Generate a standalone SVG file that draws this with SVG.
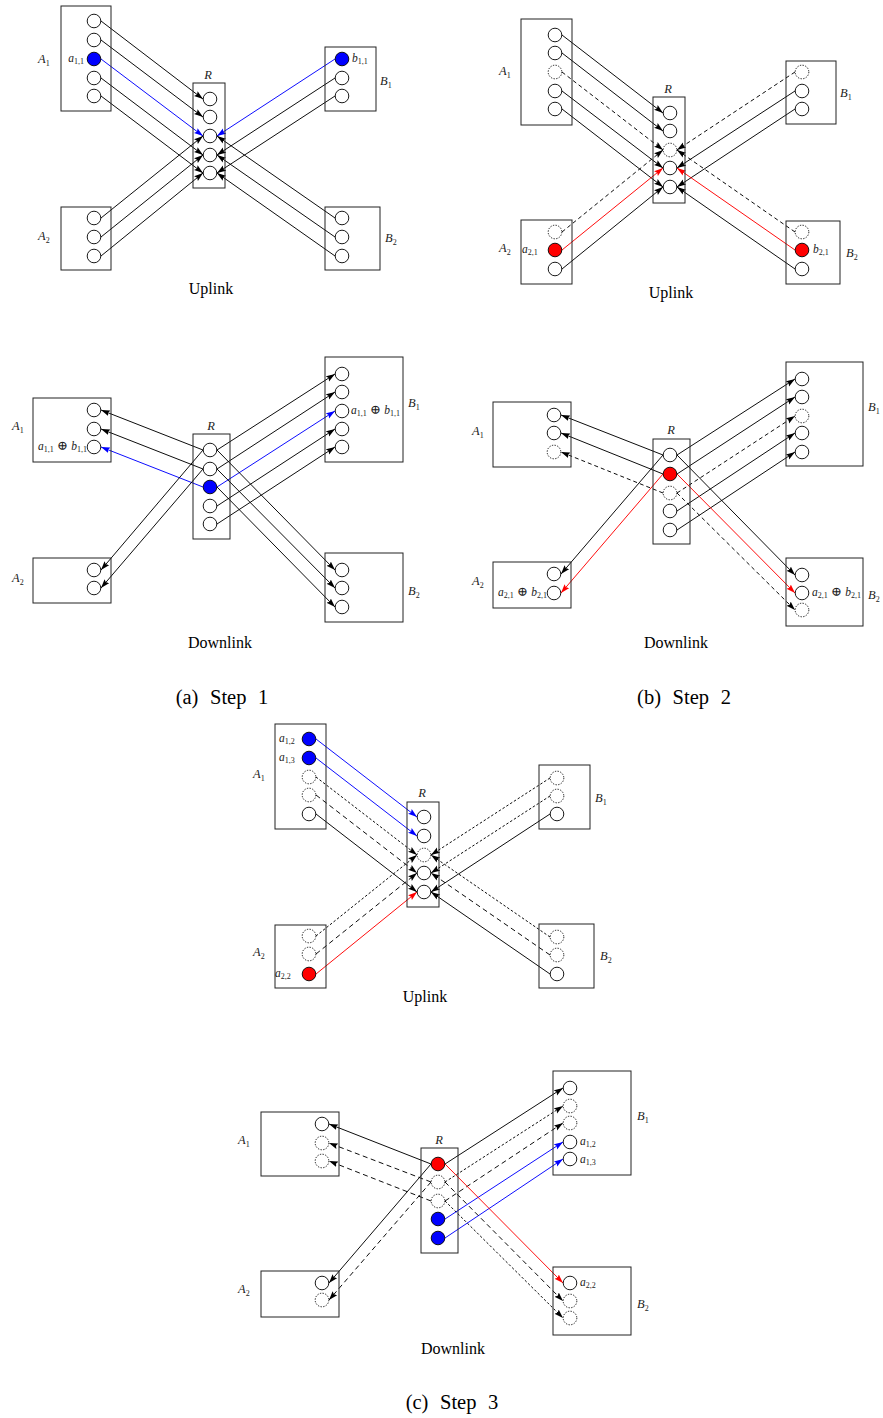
<svg xmlns="http://www.w3.org/2000/svg" width="883" height="1418" viewBox="0 0 883 1418">
<defs>
<marker id="ah" viewBox="0 0 9 7" refX="9" refY="3.5" markerWidth="9" markerHeight="7" markerUnits="userSpaceOnUse" orient="auto"><path d="M0,0.5 L9,3.5 L0,6.5 L1.5,3.5 z" fill="#000"/></marker>
<marker id="ahb" viewBox="0 0 9 7" refX="9" refY="3.5" markerWidth="9" markerHeight="7" markerUnits="userSpaceOnUse" orient="auto"><path d="M0,0.5 L9,3.5 L0,6.5 L1.5,3.5 z" fill="#00f"/></marker>
<marker id="ahr" viewBox="0 0 9 7" refX="9" refY="3.5" markerWidth="9" markerHeight="7" markerUnits="userSpaceOnUse" orient="auto"><path d="M0,0.5 L9,3.5 L0,6.5 L1.5,3.5 z" fill="#f00"/></marker>
</defs>
<style>
.box{fill:none;stroke:#222;stroke-width:1}
.n{fill:#fff;stroke:#000;stroke-width:0.9}
.d{fill:#fff;stroke:#000;stroke-width:0.9;stroke-dasharray:1.3 1.4}
.b{fill:#00f;stroke:#000;stroke-width:0.9}
.r{fill:#f00;stroke:#000;stroke-width:0.9}
line{stroke:#000;stroke-width:0.95;fill:none;marker-end:url(#ah)}
line.lb{stroke:#00f;marker-end:url(#ahb)}
line.lr{stroke:#f00;marker-end:url(#ahr)}
line.ld{stroke-dasharray:4 3}
line.ls{stroke-dasharray:2.5 2}
line.ll{stroke-dasharray:5 3.5}
text{font-family:"Liberation Serif","DejaVu Serif",serif}
.m{font-style:italic;font-size:12.5px;fill:#222}
.v{font-style:italic;font-size:11.5px;fill:#222}
.s{font-style:normal;font-size:8px}
.op{font-style:normal;font-size:13px}
.t{font-size:16px;fill:#000;text-anchor:middle}
.cap{font-size:20.5px;fill:#000;text-anchor:middle;word-spacing:6.5px}
</style>

<!-- ===== Step 1, uplink ===== -->
<g id="a-up-links">
<line x1="101" y1="21" x2="203" y2="99"/>
<line x1="101" y1="40" x2="203" y2="117"/>
<line class="lb" x1="101" y1="59" x2="203" y2="136"/>
<line x1="101" y1="78" x2="203" y2="155"/>
<line x1="101" y1="96" x2="203" y2="173"/>
<line x1="101" y1="218" x2="203" y2="136"/>
<line x1="101" y1="237" x2="203" y2="155"/>
<line x1="101" y1="256" x2="203" y2="173"/>
<line class="lb" x1="335" y1="59" x2="217" y2="136"/>
<line x1="335" y1="78" x2="217" y2="155"/>
<line x1="335" y1="96" x2="217" y2="173"/>
<line x1="335" y1="218" x2="217" y2="136"/>
<line x1="335" y1="237" x2="217" y2="155"/>
<line x1="335" y1="256" x2="217" y2="173"/>
</g>
<g id="a-up-A1">
<rect class="box" x="61" y="6" width="50" height="105"/>
<circle class="n" cx="94" cy="21" r="6.8"/><circle class="n" cx="94" cy="40" r="6.8"/><circle class="b" cx="94" cy="59" r="6.8"/><circle class="n" cx="94" cy="78" r="6.8"/><circle class="n" cx="94" cy="96" r="6.8"/>
<text class="m" x="38" y="63">A<tspan class="s" dy="2.5">1</tspan></text>
<text class="v" x="84" y="62" text-anchor="end">a<tspan class="s" dy="2">1,1</tspan></text>
</g>
<g id="a-up-A2">
<rect class="box" x="61" y="207" width="50" height="63"/>
<circle class="n" cx="94" cy="218" r="6.8"/><circle class="n" cx="94" cy="237" r="6.8"/><circle class="n" cx="94" cy="256" r="6.8"/>
<text class="m" x="38" y="240">A<tspan class="s" dy="2.5">2</tspan></text>
</g>
<g id="a-up-R">
<rect class="box" x="193" y="83" width="32" height="105"/>
<circle class="n" cx="210" cy="99" r="6.8"/><circle class="n" cx="210" cy="117" r="6.8"/><circle class="n" cx="210" cy="136" r="6.8"/><circle class="n" cx="210" cy="155" r="6.8"/><circle class="n" cx="210" cy="173" r="6.8"/>
<text class="m" x="208" y="79" text-anchor="middle">R</text>
</g>
<g id="a-up-B1">
<rect class="box" x="325" y="47" width="51" height="64"/>
<circle class="b" cx="342" cy="59" r="6.8"/><circle class="n" cx="342" cy="78" r="6.8"/><circle class="n" cx="342" cy="96" r="6.8"/>
<text class="v" x="352" y="62">b<tspan class="s" dy="2">1,1</tspan></text>
<text class="m" x="380" y="85">B<tspan class="s" dy="2.5">1</tspan></text>
</g>
<g id="a-up-B2">
<rect class="box" x="325" y="207" width="55" height="63"/>
<circle class="n" cx="342" cy="218" r="6.8"/><circle class="n" cx="342" cy="237" r="6.8"/><circle class="n" cx="342" cy="256" r="6.8"/>
<text class="m" x="385" y="242">B<tspan class="s" dy="2.5">2</tspan></text>
</g>
<text class="t" x="211" y="294">Uplink</text>

<!-- ===== Step 1, downlink ===== -->
<g id="a-dn-links">
<line x1="203" y1="450" x2="101" y2="410"/>
<line x1="203" y1="469" x2="101" y2="429"/>
<line class="lb" x1="203" y1="487" x2="101" y2="447"/>
<line x1="203" y1="450" x2="101" y2="570"/>
<line x1="203" y1="469" x2="101" y2="588"/>
<line x1="217" y1="450" x2="335" y2="374"/>
<line x1="217" y1="469" x2="335" y2="392"/>
<line class="lb" x1="217" y1="487" x2="335" y2="411"/>
<line x1="217" y1="506" x2="335" y2="429"/>
<line x1="217" y1="524" x2="335" y2="447"/>
<line x1="217" y1="450" x2="335" y2="570"/>
<line x1="217" y1="469" x2="335" y2="588"/>
<line x1="217" y1="487" x2="335" y2="607"/>
</g>
<g id="a-dn-A1">
<rect class="box" x="33" y="398" width="78" height="64"/>
<circle class="n" cx="94" cy="410" r="6.8"/><circle class="n" cx="94" cy="429" r="6.8"/><circle class="n" cx="94" cy="447" r="6.8"/>
<text class="m" x="12" y="430">A<tspan class="s" dy="2.5">1</tspan></text>
<text class="v" x="87" y="450" text-anchor="end">a<tspan class="s" dy="2">1,1</tspan><tspan class="op" dy="-2"> ⊕ </tspan>b<tspan class="s" dy="2">1,1</tspan></text>
</g>
<g id="a-dn-A2">
<rect class="box" x="33" y="558" width="78" height="45"/>
<circle class="n" cx="94" cy="570" r="6.8"/><circle class="n" cx="94" cy="588" r="6.8"/>
<text class="m" x="12" y="582">A<tspan class="s" dy="2.5">2</tspan></text>
</g>
<g id="a-dn-R">
<rect class="box" x="193" y="434" width="37" height="105"/>
<circle class="n" cx="210" cy="450" r="6.8"/><circle class="n" cx="210" cy="469" r="6.8"/><circle class="b" cx="210" cy="487" r="6.8"/><circle class="n" cx="210" cy="506" r="6.8"/><circle class="n" cx="210" cy="524" r="6.8"/>
<text class="m" x="211" y="430" text-anchor="middle">R</text>
</g>
<g id="a-dn-B1">
<rect class="box" x="325" y="357" width="78" height="105"/>
<circle class="n" cx="342" cy="374" r="6.8"/><circle class="n" cx="342" cy="392" r="6.8"/><circle class="n" cx="342" cy="411" r="6.8"/><circle class="n" cx="342" cy="429" r="6.8"/><circle class="n" cx="342" cy="447" r="6.8"/>
<text class="v" x="351" y="414">a<tspan class="s" dy="2">1,1</tspan><tspan class="op" dy="-2"> ⊕ </tspan>b<tspan class="s" dy="2">1,1</tspan></text>
<text class="m" x="408" y="407">B<tspan class="s" dy="2.5">1</tspan></text>
</g>
<g id="a-dn-B2">
<rect class="box" x="325" y="553" width="78" height="69"/>
<circle class="n" cx="342" cy="570" r="6.8"/><circle class="n" cx="342" cy="588" r="6.8"/><circle class="n" cx="342" cy="607" r="6.8"/>
<text class="m" x="408" y="595">B<tspan class="s" dy="2.5">2</tspan></text>
</g>
<text class="t" x="220" y="648">Downlink</text>

<!-- ===== Step 2, uplink ===== -->
<g id="b-up-links">
<line x1="562" y1="35" x2="663" y2="113"/>
<line x1="562" y1="53" x2="663" y2="131"/>
<line class="ld" x1="562" y1="72" x2="663" y2="150"/>
<line x1="562" y1="91" x2="663" y2="168"/>
<line x1="562" y1="109" x2="663" y2="187"/>
<line class="ld" x1="562" y1="232" x2="663" y2="150"/>
<line class="lr" x1="562" y1="250" x2="663" y2="168"/>
<line x1="562" y1="269" x2="663" y2="187"/>
<line class="ld" x1="795" y1="72" x2="677" y2="150"/>
<line x1="795" y1="91" x2="677" y2="168"/>
<line x1="795" y1="109" x2="677" y2="187"/>
<line class="ld" x1="795" y1="232" x2="677" y2="150"/>
<line class="lr" x1="795" y1="250" x2="677" y2="168"/>
<line x1="795" y1="269" x2="677" y2="187"/>
</g>
<g id="b-up-A1">
<rect class="box" x="521" y="19" width="51" height="106"/>
<circle class="n" cx="555" cy="35" r="6.8"/><circle class="n" cx="555" cy="53" r="6.8"/><circle class="d" cx="555" cy="72" r="6.8"/><circle class="n" cx="555" cy="91" r="6.8"/><circle class="n" cx="555" cy="109" r="6.8"/>
<text class="m" x="499" y="75">A<tspan class="s" dy="2.5">1</tspan></text>
</g>
<g id="b-up-A2">
<rect class="box" x="521" y="220" width="51" height="64"/>
<circle class="d" cx="555" cy="232" r="6.8"/><circle class="r" cx="555" cy="250" r="6.8"/><circle class="n" cx="555" cy="269" r="6.8"/>
<text class="m" x="499" y="252">A<tspan class="s" dy="2.5">2</tspan></text>
<text class="v" x="522" y="253">a<tspan class="s" dy="2">2,1</tspan></text>
</g>
<g id="b-up-R">
<rect class="box" x="653" y="97" width="32" height="106"/>
<circle class="n" cx="670" cy="113" r="6.8"/><circle class="n" cx="670" cy="131" r="6.8"/><circle class="d" cx="670" cy="150" r="6.8"/><circle class="n" cx="670" cy="168" r="6.8"/><circle class="n" cx="670" cy="187" r="6.8"/>
<text class="m" x="668" y="93" text-anchor="middle">R</text>
</g>
<g id="b-up-B1">
<rect class="box" x="786" y="61" width="50" height="63"/>
<circle class="d" cx="802" cy="72" r="6.8"/><circle class="n" cx="802" cy="91" r="6.8"/><circle class="n" cx="802" cy="109" r="6.8"/>
<text class="m" x="840" y="97">B<tspan class="s" dy="2.5">1</tspan></text>
</g>
<g id="b-up-B2">
<rect class="box" x="786" y="221" width="54" height="63"/>
<circle class="d" cx="802" cy="232" r="6.8"/><circle class="r" cx="802" cy="250" r="6.8"/><circle class="n" cx="802" cy="269" r="6.8"/>
<text class="v" x="813" y="253">b<tspan class="s" dy="2">2,1</tspan></text>
<text class="m" x="846" y="257">B<tspan class="s" dy="2.5">2</tspan></text>
</g>
<text class="t" x="671" y="298">Uplink</text>

<!-- ===== Step 2, downlink ===== -->
<g id="b-dn-links">
<line x1="663" y1="455" x2="561" y2="415"/>
<line x1="663" y1="474" x2="561" y2="433"/>
<line class="ld" x1="663" y1="493" x2="561" y2="452"/>
<line x1="663" y1="455" x2="561" y2="574"/>
<line class="lr" x1="663" y1="474" x2="561" y2="593"/>
<line x1="677" y1="455" x2="795" y2="379"/>
<line x1="677" y1="474" x2="795" y2="397"/>
<line class="ld" x1="677" y1="493" x2="795" y2="416"/>
<line x1="677" y1="511" x2="795" y2="433"/>
<line x1="677" y1="530" x2="795" y2="452"/>
<line x1="677" y1="455" x2="795" y2="575"/>
<line class="lr" x1="677" y1="474" x2="795" y2="593"/>
<line class="ld" x1="677" y1="493" x2="795" y2="610"/>
</g>
<g id="b-dn-A1">
<rect class="box" x="493" y="402" width="78" height="65"/>
<circle class="n" cx="554" cy="415" r="6.8"/><circle class="n" cx="554" cy="433" r="6.8"/><circle class="d" cx="554" cy="452" r="6.8"/>
<text class="m" x="472" y="435">A<tspan class="s" dy="2.5">1</tspan></text>
</g>
<g id="b-dn-A2">
<rect class="box" x="493" y="562" width="78" height="46"/>
<circle class="n" cx="554" cy="574" r="6.8"/><circle class="n" cx="554" cy="593" r="6.8"/>
<text class="m" x="472" y="585">A<tspan class="s" dy="2.5">2</tspan></text>
<text class="v" x="547" y="596" text-anchor="end">a<tspan class="s" dy="2">2,1</tspan><tspan class="op" dy="-2"> ⊕ </tspan>b<tspan class="s" dy="2">2,1</tspan></text>
</g>
<g id="b-dn-R">
<rect class="box" x="653" y="439" width="37" height="105"/>
<circle class="n" cx="670" cy="455" r="6.8"/><circle class="r" cx="670" cy="474" r="6.8"/><circle class="d" cx="670" cy="493" r="6.8"/><circle class="n" cx="670" cy="511" r="6.8"/><circle class="n" cx="670" cy="530" r="6.8"/>
<text class="m" x="671" y="434" text-anchor="middle">R</text>
</g>
<g id="b-dn-B1">
<rect class="box" x="786" y="362" width="77" height="104"/>
<circle class="n" cx="802" cy="379" r="6.8"/><circle class="n" cx="802" cy="397" r="6.8"/><circle class="d" cx="802" cy="416" r="6.8"/><circle class="n" cx="802" cy="433" r="6.8"/><circle class="n" cx="802" cy="452" r="6.8"/>
<text class="m" x="868" y="411">B<tspan class="s" dy="2.5">1</tspan></text>
</g>
<g id="b-dn-B2">
<rect class="box" x="786" y="558" width="77" height="68"/>
<circle class="n" cx="802" cy="575" r="6.8"/><circle class="n" cx="802" cy="593" r="6.8"/><circle class="d" cx="802" cy="610" r="6.8"/>
<text class="v" x="812" y="596">a<tspan class="s" dy="2">2,1</tspan><tspan class="op" dy="-2"> ⊕ </tspan>b<tspan class="s" dy="2">2,1</tspan></text>
<text class="m" x="868" y="599">B<tspan class="s" dy="2.5">2</tspan></text>
</g>
<text class="t" x="676" y="648">Downlink</text>

<text class="cap" x="222" y="704">(a) Step 1</text>
<text class="cap" x="684" y="704">(b) Step 2</text>

<!-- ===== Step 3, uplink ===== -->
<g id="c-up-links">
<line class="lb" x1="316" y1="739" x2="417" y2="817"/>
<line class="lb" x1="316" y1="758" x2="417" y2="836"/>
<line class="ls" x1="316" y1="777" x2="417" y2="855"/>
<line class="ll" x1="316" y1="795" x2="417" y2="873"/>
<line x1="316" y1="814" x2="417" y2="892"/>
<line class="ls" x1="316" y1="936" x2="417" y2="855"/>
<line class="ll" x1="316" y1="954" x2="417" y2="873"/>
<line class="lr" x1="316" y1="974" x2="417" y2="892"/>
<line class="ls" x1="550" y1="778" x2="431" y2="855"/>
<line class="ls" x1="550" y1="796" x2="431" y2="873"/>
<line x1="550" y1="814" x2="431" y2="892"/>
<line class="ls" x1="550" y1="937" x2="431" y2="855"/>
<line class="ll" x1="550" y1="955" x2="431" y2="873"/>
<line x1="550" y1="974" x2="431" y2="892"/>
</g>
<g id="c-up-A1">
<rect class="box" x="275" y="724" width="51" height="105"/>
<circle class="b" cx="309" cy="739" r="6.8"/><circle class="b" cx="309" cy="758" r="6.8"/><circle class="d" cx="309" cy="777" r="6.8"/><circle class="d" cx="309" cy="795" r="6.8"/><circle class="n" cx="309" cy="814" r="6.8"/>
<text class="m" x="253" y="778">A<tspan class="s" dy="2.5">1</tspan></text>
<text class="v" x="279" y="742">a<tspan class="s" dy="2">1,2</tspan></text>
<text class="v" x="279" y="761">a<tspan class="s" dy="2">1,3</tspan></text>
</g>
<g id="c-up-A2">
<rect class="box" x="275" y="925" width="51" height="63"/>
<circle class="d" cx="309" cy="936" r="6.8"/><circle class="d" cx="309" cy="954" r="6.8"/><circle class="r" cx="309" cy="974" r="6.8"/>
<text class="m" x="253" y="956">A<tspan class="s" dy="2.5">2</tspan></text>
<text class="v" x="275" y="977">a<tspan class="s" dy="2">2,2</tspan></text>
</g>
<g id="c-up-R">
<rect class="box" x="407" y="802" width="32" height="105"/>
<circle class="n" cx="424" cy="817" r="6.8"/><circle class="n" cx="424" cy="836" r="6.8"/><circle class="d" cx="424" cy="855" r="6.8"/><circle class="n" cx="424" cy="873" r="6.8"/><circle class="n" cx="424" cy="892" r="6.8"/>
<text class="m" x="422" y="797" text-anchor="middle">R</text>
</g>
<g id="c-up-B1">
<rect class="box" x="539" y="765" width="51" height="64"/>
<circle class="d" cx="557" cy="778" r="6.8"/><circle class="d" cx="557" cy="796" r="6.8"/><circle class="n" cx="557" cy="814" r="6.8"/>
<text class="m" x="595" y="802">B<tspan class="s" dy="2.5">1</tspan></text>
</g>
<g id="c-up-B2">
<rect class="box" x="539" y="924" width="55" height="64"/>
<circle class="d" cx="557" cy="937" r="6.8"/><circle class="d" cx="557" cy="955" r="6.8"/><circle class="n" cx="557" cy="974" r="6.8"/>
<text class="m" x="600" y="960">B<tspan class="s" dy="2.5">2</tspan></text>
</g>
<text class="t" x="425" y="1002">Uplink</text>

<!-- ===== Step 3, downlink ===== -->
<g id="c-dn-links">
<line x1="431" y1="1164" x2="329" y2="1124"/>
<line class="ll" x1="431" y1="1182" x2="329" y2="1143"/>
<line class="ll" x1="431" y1="1201" x2="329" y2="1161"/>
<line x1="431" y1="1164" x2="329" y2="1283"/>
<line class="ll" x1="431" y1="1182" x2="329" y2="1300"/>
<line x1="445" y1="1164" x2="563" y2="1088"/>
<line class="ls" x1="445" y1="1182" x2="563" y2="1106"/>
<line class="ll" x1="445" y1="1201" x2="563" y2="1123"/>
<line class="lb" x1="445" y1="1219" x2="563" y2="1142"/>
<line class="lb" x1="445" y1="1238" x2="563" y2="1159"/>
<line class="lr" x1="445" y1="1164" x2="563" y2="1283"/>
<line class="ll" x1="445" y1="1182" x2="563" y2="1301"/>
<line class="ls" x1="445" y1="1201" x2="563" y2="1318"/>
</g>
<g id="c-dn-A1">
<rect class="box" x="261" y="1112" width="78" height="64"/>
<circle class="n" cx="322" cy="1124" r="6.8"/><circle class="d" cx="322" cy="1143" r="6.8"/><circle class="d" cx="322" cy="1161" r="6.8"/>
<text class="m" x="238" y="1144">A<tspan class="s" dy="2.5">1</tspan></text>
</g>
<g id="c-dn-A2">
<rect class="box" x="261" y="1271" width="78" height="46"/>
<circle class="n" cx="322" cy="1283" r="6.8"/><circle class="d" cx="322" cy="1300" r="6.8"/>
<text class="m" x="238" y="1293">A<tspan class="s" dy="2.5">2</tspan></text>
</g>
<g id="c-dn-R">
<rect class="box" x="421" y="1148" width="37" height="105"/>
<circle class="r" cx="438" cy="1164" r="6.8"/><circle class="d" cx="438" cy="1182" r="6.8"/><circle class="d" cx="438" cy="1201" r="6.8"/><circle class="b" cx="438" cy="1219" r="6.8"/><circle class="b" cx="438" cy="1238" r="6.8"/>
<text class="m" x="439" y="1144" text-anchor="middle">R</text>
</g>
<g id="c-dn-B1">
<rect class="box" x="553" y="1071" width="78" height="104"/>
<circle class="n" cx="570" cy="1088" r="6.8"/><circle class="d" cx="570" cy="1106" r="6.8"/><circle class="d" cx="570" cy="1123" r="6.8"/><circle class="n" cx="570" cy="1142" r="6.8"/><circle class="n" cx="570" cy="1159" r="6.8"/>
<text class="v" x="580" y="1145">a<tspan class="s" dy="2">1,2</tspan></text>
<text class="v" x="580" y="1163">a<tspan class="s" dy="2">1,3</tspan></text>
<text class="m" x="637" y="1120">B<tspan class="s" dy="2.5">1</tspan></text>
</g>
<g id="c-dn-B2">
<rect class="box" x="553" y="1267" width="78" height="68"/>
<circle class="n" cx="570" cy="1283" r="6.8"/><circle class="d" cx="570" cy="1301" r="6.8"/><circle class="d" cx="570" cy="1318" r="6.8"/>
<text class="v" x="580" y="1286">a<tspan class="s" dy="2">2,2</tspan></text>
<text class="m" x="637" y="1308">B<tspan class="s" dy="2.5">2</tspan></text>
</g>
<text class="t" x="453" y="1354">Downlink</text>

<text class="cap" x="452" y="1409">(c) Step 3</text>
</svg>
